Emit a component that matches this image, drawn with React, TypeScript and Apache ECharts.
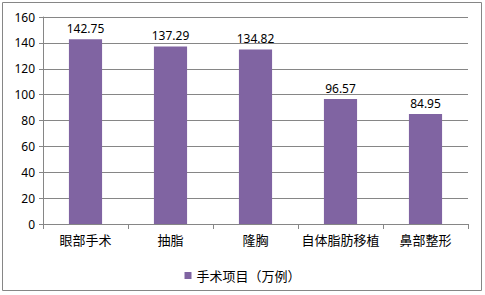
import React, { useEffect, useRef } from "react";
import * as echarts from "echarts";

const categories = ["眼部手术", "抽脂", "隆胸", "自体脂肪移植", "鼻部整形"];
const values = [142.75, 137.29, 134.82, 96.57, 84.95];
const seriesName = "手术项目（万例）";

export default function App() {
  const ref = useRef<HTMLDivElement>(null);
  useEffect(() => {
    const chart = echarts.init(ref.current!, undefined, { renderer: "svg" });
    chart.setOption({
      animation: false,
      graphic: [
        {
          type: "rect",
          shape: { x: 2.5, y: 2.5, width: 479, height: 288 },
          style: { fill: "none", stroke: "#868686", lineWidth: 1 },
          silent: true,
        },
      ],
      grid: { left: 43, right: 17, top: 17, bottom: 71, containLabel: false },
      legend: {
        bottom: 8,
        left: "center",
        itemWidth: 7,
        itemHeight: 7,
        itemGap: 4,
        icon: "rect",
        textStyle: { fontFamily: "Noto Sans CJK SC", fontSize: 13, color: "#000" },
        data: [seriesName],
      },
      xAxis: {
        type: "category",
        data: categories,
        axisLine: { lineStyle: { color: "#868686" } },
        axisTick: { show: true, length: 5, lineStyle: { color: "#868686" } },
        axisLabel: {
          interval: 0,
          hideOverlap: false,
          fontFamily: "Noto Sans CJK SC",
          fontSize: 13,
          color: "#000",
          margin: 9,
        },
      },
      yAxis: {
        type: "value",
        min: 0,
        max: 160,
        interval: 20,
        axisLine: { show: true, lineStyle: { color: "#868686" } },
        axisTick: { show: true, length: 4, lineStyle: { color: "#868686" } },
        axisLabel: { fontFamily: "Noto Sans", fontSize: 12, color: "#000", margin: 8 },
        splitLine: { lineStyle: { color: "#868686" } },
      },
      series: [
        {
          name: seriesName,
          type: "bar",
          data: values,
          barWidth: "39%",
          itemStyle: { color: "#8064A2" },
          label: {
            show: true,
            position: "top",
            distance: 5,
            fontFamily: "Noto Sans",
            fontSize: 12,
            color: "#000",
            formatter: (p: any) => p.value.toFixed(2),
          },
        },
      ],
    });
    return () => chart.dispose();
  }, []);
  return (
    <div
      ref={ref}
      style={{ position: "absolute", left: 0, top: 0, width: 485, height: 295, background: "#fff" }}
    />
  );
}
